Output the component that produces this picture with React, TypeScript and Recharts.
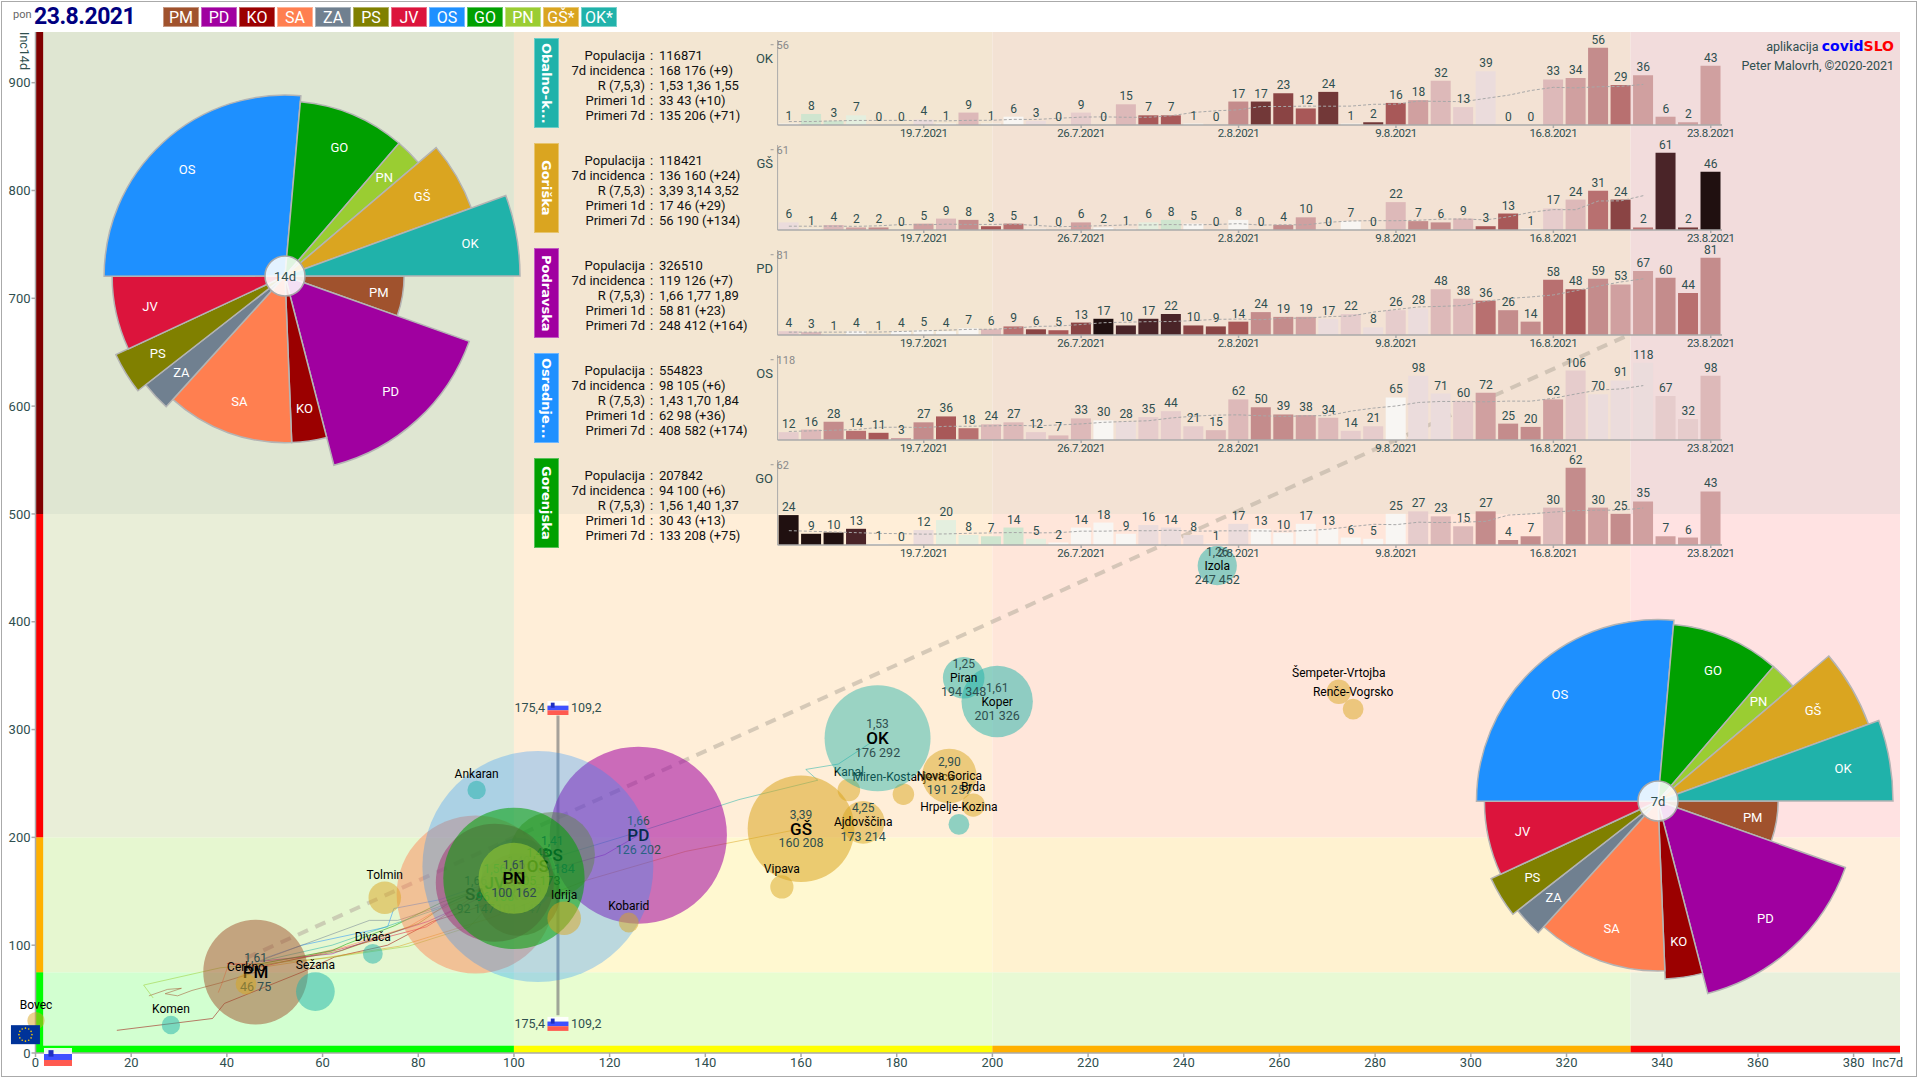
import React from 'react';
import { ScatterChart, Scatter, XAxis, YAxis, ReferenceArea, ReferenceLine, ReferenceDot, ComposedChart, Bar, Line, Cell, PieChart, Pie, Sector } from 'recharts';

const FONT = 'Roboto, sans-serif';
const INK = '#2f4f4f';

const CODES = ['PM', 'PD', 'KO', 'SA', 'ZA', 'PS', 'JV', 'OS', 'GO', 'PN', 'GŠ', 'OK'];
const POPULATION = [114000, 326510, 71000, 260000, 57000, 76000, 145000, 554823, 207842, 52500, 118421, 116871];
const INC7 = [46, 126, 101, 92, 101, 108, 96, 105, 100, 100, 160, 176];
const INC14 = [75, 202, 147, 147, 165, 184, 158, 173, 162, 162, 208, 292];
const RATIOS = ['1,61', '1,66', '1,38', '1,66', '1,40', '1,41', '1,56', '1,43', '1,56', '1,61', '3,39', '1,53'];
const COLORS: Record<string, string> = { PM: '#a0522d', PD: '#a000a0', KO: '#9b0000', SA: '#ff7f50', ZA: '#708090', PS: '#808000', JV: '#dc143c', OS: '#1e90ff', GO: '#00a000', PN: '#9acd32', 'GŠ': '#daa520', OK: '#20b2aa' };
const ALPHAS: Record<string, number> = { PM: 0.5, PD: 0.55, KO: 0.5, SA: 0.45, ZA: 0.4, PS: 0.5, JV: 0.55, OS: 0.3, GO: 0.55, PN: 0.55, 'GŠ': 0.55, OK: 0.45 };
const LEGEND = ['PM', 'PD', 'KO', 'SA', 'ZA', 'PS', 'JV', 'OS', 'GO', 'PN', 'GŠ*', 'OK*'];

const regionRows = CODES.map((code, i) => ({ code, name: code, x: INC7[i], y: INC14[i], pop: POPULATION[i], ratio: RATIOS[i], big: true }));

const GOLD_TOWNS = [
  { name: 'Bovec', x: 0.1, y: 30, pop: 3100 },
  { name: 'Cerkno', x: 44, y: 64, pop: 4500 },
  { name: 'Tolmin', x: 73, y: 144, pop: 11000 },
  { name: 'Idrija', x: 110.5, y: 125, pop: 11700 },
  { name: 'Kobarid', x: 124, y: 121, pop: 4100 },
  { name: 'Vipava', x: 156, y: 154, pop: 5600 },
  { name: 'Kanal', x: 170, y: 244, pop: 5300 },
  { name: 'Miren-Kostanjevica', x: 181.4, y: 240, pop: 4800 },
  { name: 'Nova Gorica', x: 191, y: 257, pop: 31000, ratio: '2,90' },
  { name: 'Brda', x: 196, y: 230, pop: 5600 },
  { name: 'Ajdovščina', x: 173, y: 214, pop: 19000, ratio: '4,25' },
  { name: 'Šempeter-Vrtojba', x: 272.4, y: 335, pop: 6200 },
  { name: 'Renče-Vogrsko', x: 275.4, y: 319, pop: 4500 },
];
const TEAL_TOWNS = [
  { name: 'Ankaran', x: 92.2, y: 244, pop: 3500 },
  { name: 'Divača', x: 70.5, y: 92, pop: 4100 },
  { name: 'Sežana', x: 58.5, y: 57, pop: 15600 },
  { name: 'Komen', x: 28.3, y: 26, pop: 3500 },
  { name: 'Hrpelje-Kozina', x: 193, y: 212, pop: 4500 },
  { name: 'Koper', x: 201, y: 326, pop: 53000, ratio: '1,61' },
  { name: 'Piran', x: 194, y: 348, pop: 18000, ratio: '1,25' },
  { name: 'Izola', x: 247, y: 452, pop: 16000, ratio: '1,26' },
];

const TRAIL_PM = [{ x: 23.7, y: 53 }, { x: 27.6, y: 59 }, { x: 30.5, y: 60 }, { x: 27.1, y: 55 }, { x: 29.7, y: 53 }, { x: 32.7, y: 58 }, { x: 38.6, y: 65 }, { x: 46, y: 75 }];
const TRAIL_KO = [{ x: 17, y: 21 }, { x: 37, y: 32 }, { x: 39.5, y: 46 }, { x: 55.7, y: 75 }, { x: 62.5, y: 89 }, { x: 73.6, y: 100 }, { x: 83, y: 122 }, { x: 101, y: 147 }];
const TRAIL_SA = [{ x: 38.2, y: 56 }, { x: 39, y: 65 }, { x: 40.4, y: 83 }, { x: 47.2, y: 83 }, { x: 55.7, y: 89 }, { x: 65, y: 99 }, { x: 78, y: 117 }, { x: 83, y: 130 }, { x: 92, y: 147 }];
const TRAIL_JV = [{ x: 40, y: 83 }, { x: 47.2, y: 80 }, { x: 63.4, y: 96 }, { x: 81.7, y: 117 }, { x: 86.4, y: 130 }, { x: 96, y: 158 }];
const TRAIL_PD = [{ x: 47, y: 85 }, { x: 62, y: 92 }, { x: 70, y: 105 }, { x: 82, y: 122 }, { x: 92, y: 142 }, { x: 108, y: 170 }, { x: 119, y: 184 }, { x: 126, y: 202 }];
const TRAIL_OS = [{ x: 48, y: 88 }, { x: 55.7, y: 100 }, { x: 73.6, y: 117 }, { x: 74.9, y: 134 }, { x: 84.3, y: 142 }, { x: 105, y: 173 }];
const TRAIL_ZA = [{ x: 46, y: 84 }, { x: 55.7, y: 100 }, { x: 69.8, y: 123 }, { x: 75.7, y: 123 }, { x: 84, y: 135 }, { x: 101, y: 165 }];
const TRAIL_GO = [{ x: 46, y: 82 }, { x: 62, y: 95 }, { x: 65, y: 101 }, { x: 75, y: 118 }, { x: 85, y: 140 }, { x: 100, y: 162 }];
const TRAIL_PS = [{ x: 46, y: 80 }, { x: 64, y: 95 }, { x: 80, y: 120 }, { x: 86, y: 138 }, { x: 108, y: 184 }];
const TRAIL_PN = [{ x: 24.6, y: 51 }, { x: 22.6, y: 63 }, { x: 38.6, y: 79 }, { x: 60.8, y: 88 }, { x: 77.9, y: 99 }, { x: 90.7, y: 117 }, { x: 100, y: 162 }];
const TRAIL_GS = [{ x: 48, y: 80 }, { x: 60, y: 88 }, { x: 76, y: 99 }, { x: 95, y: 125 }, { x: 115, y: 160 }, { x: 135.9, y: 187 }, { x: 160, y: 208 }];
const TRAIL_OK = [{ x: 47, y: 85 }, { x: 62, y: 100 }, { x: 85, y: 135 }, { x: 100, y: 170 }, { x: 126, y: 205 }, { x: 147, y: 235 }, { x: 163.5, y: 253 }, { x: 161, y: 263 }, { x: 167.8, y: 268 }, { x: 176, y: 292 }];
const TRAILS: [string, { x: number; y: number }[]][] = [['PM', TRAIL_PM], ['KO', TRAIL_KO], ['SA', TRAIL_SA], ['JV', TRAIL_JV], ['PD', TRAIL_PD], ['OS', TRAIL_OS], ['ZA', TRAIL_ZA], ['GO', TRAIL_GO], ['PS', TRAIL_PS], ['PN', TRAIL_PN], ['GŠ', TRAIL_GS], ['OK', TRAIL_OK]];

const X_TICKS = [0, 20, 40, 60, 80, 100, 120, 140, 160, 180, 200, 220, 240, 260, 280, 300, 320, 340, 360, 380];
const Y_TICKS = [0, 100, 200, 300, 400, 500, 600, 700, 800, 900];
const X_BANDS = [0, 100, 200, 333.4, 389.7];
const Y_BANDS = [0, 75, 200, 500, 947];
const BACKGROUNDS = [
  ['#d2ffd0', '#e8fdd0', '#e8f9d4', '#e8f0dc'],
  ['#e6f7d0', '#fff8d0', '#fff2d0', '#ffefdc'],
  ['#e9eed8', '#ffeed8', '#ffe6da', '#ffe2e2'],
  ['#dfe6d2', '#f3e6d2', '#f3e2d4', '#f2dcdc'],
];
const Y_STRIP = ['#00ff00', '#ffb000', '#ff0000', '#800000'];
const X_STRIP = ['#00ff00', '#ffff00', '#ffb000', '#ff0000'];

const DAYS = ['13.7.2021', '14.7.2021', '15.7.2021', '16.7.2021', '17.7.2021', '18.7.2021', '19.7.2021', '20.7.2021', '21.7.2021', '22.7.2021', '23.7.2021', '24.7.2021', '25.7.2021', '26.7.2021', '27.7.2021', '28.7.2021', '29.7.2021', '30.7.2021', '31.7.2021', '1.8.2021', '2.8.2021', '3.8.2021', '4.8.2021', '5.8.2021', '6.8.2021', '7.8.2021', '8.8.2021', '9.8.2021', '10.8.2021', '11.8.2021', '12.8.2021', '13.8.2021', '14.8.2021', '15.8.2021', '16.8.2021', '17.8.2021', '18.8.2021', '19.8.2021', '20.8.2021', '21.8.2021', '22.8.2021', '23.8.2021'];
const DAY_TICKS = ['19.7.2021', '26.7.2021', '2.8.2021', '9.8.2021', '16.8.2021', '23.8.2021'];

const OK_CASES = [1, 8, 3, 7, 0, 0, 4, 1, 9, 1, 6, 3, 0, 9, 0, 15, 7, 7, 1, 0, 17, 17, 23, 12, 24, 1, 2, 16, 18, 32, 13, 39, 0, 0, 33, 34, 56, 29, 36, 6, 2, 43];
const GS_CASES = [6, 1, 4, 2, 2, 0, 5, 9, 8, 3, 5, 1, 0, 6, 2, 1, 6, 8, 5, 0, 8, 0, 4, 10, 0, 7, 0, 22, 7, 6, 9, 3, 13, 1, 17, 24, 31, 24, 2, 61, 2, 46];
const PD_CASES = [4, 3, 1, 4, 1, 4, 5, 4, 7, 6, 9, 6, 5, 13, 17, 10, 17, 22, 10, 9, 14, 24, 19, 19, 17, 22, 8, 26, 28, 48, 38, 36, 26, 14, 58, 48, 59, 53, 67, 60, 44, 81];
const OS_CASES = [12, 16, 28, 14, 11, 3, 27, 36, 18, 24, 27, 12, 7, 33, 30, 28, 35, 44, 21, 15, 62, 50, 39, 38, 34, 14, 21, 65, 98, 71, 60, 72, 25, 20, 62, 106, 70, 91, 118, 67, 32, 98];
const GO_CASES = [24, 9, 10, 13, 1, 0, 12, 20, 8, 7, 14, 5, 2, 14, 18, 9, 16, 14, 8, 1, 17, 13, 10, 17, 13, 6, 5, 25, 27, 23, 15, 27, 4, 7, 30, 62, 30, 25, 35, 7, 6, 43];

const OK_TREND = [2.5, 2.5, 3, 3.3, 3.3, 3.4, 3.1, 3, 3.4, 3.4, 4.1, 4, 4.9, 5.7, 5.9, 5.6, 5.6, 6.7, 9.1, 10.3, 11, 13.4, 13.4, 13.7, 13.6, 13.7, 15, 15.1, 17.3, 17.1, 16.9, 19.3, 21.6, 25, 27.3, 26.9, 27.7, 28, 29.4];
const GS_TREND = [3, 3, 3, 2.9, 3.3, 4.3, 4.1, 4.6, 4.4, 4.4, 4.6, 3.6, 2.6, 3, 3.4, 4, 4, 4.3, 4, 4.4, 5, 3.9, 4.1, 4.1, 6.1, 7.1, 7.4, 7.3, 7.7, 8.6, 8.7, 8, 10.4, 14, 16.1, 16, 22.9, 23, 27.1];
const PD_TREND = [3, 3, 3, 3.1, 3.1, 3.7, 4.4, 5.1, 5.9, 6, 7.1, 9, 9.4, 11, 12.9, 13.4, 14, 14.1, 15.1, 16.4, 16.7, 16, 17.7, 17.6, 19.3, 19.9, 24, 26.7, 29.4, 30, 30.9, 35.4, 38.3, 39.9, 42, 46.4, 51.3, 55.6, 58.9];
const OS_TREND = [13, 14, 15, 15.9, 19.3, 19.6, 19, 20.9, 21, 21.6, 22.4, 21.6, 23, 24.6, 27, 28.3, 29.4, 33.6, 36.4, 38, 38.4, 37, 36, 36.9, 37.3, 44.1, 48.7, 51.9, 57.3, 58.9, 58.7, 58.3, 59.4, 59.3, 63.7, 70.3, 76.3, 78, 83.1];
const GO_TREND = [11.5, 11, 10.5, 9.9, 9.3, 9.1, 8.7, 8.9, 9.4, 9.7, 10, 9.7, 9.9, 11.1, 11.1, 11.6, 11.4, 11.9, 11.1, 11.3, 11.4, 11.3, 11, 11.6, 12.7, 14.7, 16.6, 16.3, 18.3, 18, 18.3, 19, 24, 25, 26.4, 27.6, 28, 27.9, 29.7];

const OK_SHADE = [0, -2, -2, -1, 0, 0, 1, 0, 3, 0, 0, 1, 0, 2, 0, 3, 7, 7, 0, 0, 5, 9, 8, 7, 9, 0, 9, 7, 4, 3, 2, 1, 0, 0, 3, 4, 5, 6, 4, 4, 4, 4];
const GS_SHADE = [1, 0, 3, 4, 5, 0, 4, 3, 5, 7, 6, 0, 0, 4, 0, 0, -1, -2, 0, 0, 0, 0, 5, 4, 0, 0, 0, 3, 5, 5, 3, 7, 7, 0, 2, 3, 6, 8, 6, 10, 9, 11];
const PD_SHADE = [2, 3, 0, 0, 0, 0, 0, 0, 0, 3, 6, 8, 7, 8, 11, 10, 10, 10, 8, 8, 7, 5, 5, 4, 1, 2, 1, 2, 1, 3, 3, 6, 5, 5, 6, 7, 5, 4, 4, 5, 6, 5];
const OS_SHADE = [2, 3, 5, 6, 7, 4, 5, 7, 6, 3, 3, 2, 3, 3, 0, 1, 2, 2, 2, 3, 3, 5, 5, 4, 3, 2, 2, 0, 1, 1, 2, 4, 5, 5, 4, 2, 1, 1, 1, 2, 2, 3];
const GO_SHADE = [11, 11, 11, 10, 0, 0, 1, -1, -1, -2, -2, -1, 0, 0, 0, 0, 1, 1, 1, 0, 1, 0, 0, 0, 0, 0, 0, 0, 2, 3, 3, 5, 5, 5, 3, 5, 4, 5, 4, 4, 4, 4];
const SHADE_PALETTE: Record<number, string> = { [-2]: '#cfe5cf', [-1]: '#e4efdf', 0: '#f8f6f3', 1: '#ebdcdc', 2: '#e6cccc', 3: '#ddb9b9', 4: '#d0a0a0', 5: '#c48c8c', 6: '#b87070', 7: '#a85858', 8: '#8a4444', 9: '#723838', 10: '#4a2428', 11: '#201010' };

const STAT_LABELS = ['Populacija', '7d incidenca', 'R (7,5,3)', 'Primeri 1d', 'Primeri 7d'];
const OK_STATS = ['116871', '168 176 (+9)', '1,53 1,36 1,55', '33 43 (+10)', '135 206 (+71)'];
const GS_STATS = ['118421', '136 160 (+24)', '3,39 3,14 3,52', '17 46 (+29)', '56 190 (+134)'];
const PD_STATS = ['326510', '119 126 (+7)', '1,66 1,77 1,89', '58 81 (+23)', '248 412 (+164)'];
const OS_STATS = ['554823', '98 105 (+6)', '1,43 1,70 1,84', '62 98 (+36)', '408 582 (+174)'];
const GO_STATS = ['207842', '94 100 (+6)', '1,56 1,40 1,37', '30 43 (+13)', '133 208 (+75)'];

const PANELS = [
  { code: 'OK', title: 'Obalno-k...', stats: OK_STATS, cases: OK_CASES, trend: OK_TREND, shade: OK_SHADE },
  { code: 'GŠ', title: 'Goriška', stats: GS_STATS, cases: GS_CASES, trend: GS_TREND, shade: GS_SHADE },
  { code: 'PD', title: 'Podravska', stats: PD_STATS, cases: PD_CASES, trend: PD_TREND, shade: PD_SHADE },
  { code: 'OS', title: 'Osrednje...', stats: OS_STATS, cases: OS_CASES, trend: OS_TREND, shade: OS_SHADE },
  { code: 'GO', title: 'Gorenjska', stats: GO_STATS, cases: GO_CASES, trend: GO_TREND, shade: GO_SHADE },
];

const BUBBLE_K = 0.155;

function Bubble(props: any) {
  const { cx, cy, payload: p, color, alpha } = props;
  const r = BUBBLE_K * Math.sqrt(p.pop);
  const fill = color ?? COLORS[p.code];
  const stacked = Boolean(p.ratio);
  const nameSize = p.big ? 17 : 12;
  return (
    <g fontFamily={FONT} textAnchor="middle">
      <circle cx={cx} cy={cy} r={r} fill={fill} fillOpacity={alpha ?? ALPHAS[p.code]} />
      {stacked ? (
        <>
          <text x={cx} y={cy - 14} dy=".35em" fontSize={12} fill={INK}>{p.ratio}</text>
          <text x={cx} y={cy} dy=".35em" fontSize={nameSize} fontWeight={p.big ? 500 : 400} fill="#000">{p.name}</text>
          <text x={cx} y={cy + 14} dy=".35em" fontSize={12.5} fill={INK}>{`${Math.round(p.x)} ${Math.round(p.y)}`}</text>
        </>
      ) : (
        <text x={cx} y={cy - r - 7} dy=".35em" fontSize={12} fill="#000">{p.name}</text>
      )}
    </g>
  );
}

function MiniFlag(props: any) {
  const { cx, cy, w, h } = props;
  return (
    <g transform={`translate(${cx - w / 2},${cy - h / 2})`}>
      <rect width={w} height={h / 3} fill="#ffffff" fillOpacity={0.9} />
      <rect y={h / 3} width={w} height={h / 3} fill="#3f51ff" />
      <rect y={(2 * h) / 3} width={w} height={h / 3} fill="#ff5a50" />
      <rect x={w * 0.16} y={h * 0.12} width={w * 0.18} height={h * 0.36} fill="#2030c0" />
    </g>
  );
}

function RefMark(props: any) {
  const { cx, cy } = props;
  return (
    <g fontFamily={FONT} fontSize={12.5} fill={INK}>
      <MiniFlag cx={cx} cy={cy} w={21} h={14} />
      <text x={cx - 13} y={cy} dy=".35em" textAnchor="end">175,4</text>
      <text x={cx + 13} y={cy} dy=".35em">109,2</text>
    </g>
  );
}

function EuFlag(props: any) {
  const { cx, cy } = props;
  const stars = Array.from({ length: 12 }, (_, i) => (i * Math.PI) / 6);
  return (
    <g>
      <rect x={cx - 14.5} y={cy - 9.5} width={29} height={19} fill="#003399" />
      {stars.map((a, i) => <circle key={i} cx={cx + 6.5 * Math.cos(a)} cy={cy + 6.5 * Math.sin(a)} r={0.8} fill="#ffcc00" />)}
    </g>
  );
}

function MainChart() {
  const dashSeg = [{ x: 44, y: 88 }, { x: 333, y: 666 }];
  return (
    <ScatterChart width={1920} height={1080} margin={{ top: 32, right: 20, bottom: 0, left: 0 }} style={{ position: 'absolute', left: 0, top: 0 }}>
      <XAxis type="number" dataKey="x" domain={[0, 389.7]} ticks={X_TICKS} height={27} stroke="#aaa" strokeWidth={1.5} tickSize={4} tick={{ fill: INK, fontSize: 13, fontFamily: FONT }} tickMargin={1} interval={0} />
      <YAxis type="number" dataKey="y" domain={[0, 947]} ticks={Y_TICKS} width={35.5} stroke="#aaa" strokeWidth={1.5} tickSize={4} tick={{ fill: INK, fontSize: 13, fontFamily: FONT }} tickMargin={1} interval={0} />
      {BACKGROUNDS.flatMap((row, yi) => row.map((fill, xi) => (
        <ReferenceArea key={`${yi}-${xi}`} x1={X_BANDS[xi]} x2={X_BANDS[xi + 1]} y1={Y_BANDS[yi]} y2={Y_BANDS[yi + 1]} fill={fill} fillOpacity={1} stroke="none" />
      )))}
      {Y_STRIP.map((fill, i) => <ReferenceArea key={`ys${i}`} x1={0} x2={1.6} y1={Y_BANDS[i]} y2={Y_BANDS[i + 1]} fill={fill} fillOpacity={1} stroke="none" />)}
      {X_STRIP.map((fill, i) => <ReferenceArea key={`xs${i}`} x1={X_BANDS[i]} x2={X_BANDS[i + 1]} y1={0} y2={6.8} fill={fill} fillOpacity={1} stroke="none" />)}
      {TRAILS.map(([code, points]) => (
        <Scatter key={code} data={points} line={{ stroke: COLORS[code], strokeWidth: 0.8, strokeOpacity: 0.65 }} shape={() => <g />} isAnimationActive={false} />
      ))}
      <Scatter data={regionRows.slice(0, 10)} shape={(p: any) => <Bubble {...p} />} isAnimationActive={false} />
      <ReferenceLine segment={dashSeg} stroke="#b4ac9c" strokeOpacity={0.55} strokeWidth={4} strokeDasharray="11 8" />
      <Scatter data={regionRows.slice(10, 11)} shape={(p: any) => <Bubble {...p} />} isAnimationActive={false} />
      <Scatter data={GOLD_TOWNS} shape={(p: any) => <Bubble {...p} color={COLORS['GŠ']} alpha={0.5} />} isAnimationActive={false} />
      <Scatter data={regionRows.slice(11)} shape={(p: any) => <Bubble {...p} />} isAnimationActive={false} />
      <Scatter data={TEAL_TOWNS} shape={(p: any) => <Bubble {...p} color={COLORS.OK} alpha={0.5} />} isAnimationActive={false} />
      <ReferenceLine segment={[{ x: 109.2, y: 35 }, { x: 109.2, y: 313 }]} stroke="#808080" strokeOpacity={0.7} strokeWidth={3} />
      <ReferenceDot x={109.2} y={320} ifOverflow="visible" shape={(p: any) => <RefMark {...p} />} />
      <ReferenceDot x={109.2} y={27} ifOverflow="visible" shape={(p: any) => <RefMark {...p} />} />
      <ReferenceDot x={-2.1} y={17} ifOverflow="visible" shape={(p: any) => <EuFlag {...p} />} />
      <ReferenceDot x={4.7} y={-3.7} ifOverflow="visible" shape={(p: any) => <MiniFlag {...p} w={28} h={18} />} />
    </ScatterChart>
  );
}

function YMaxTick(props: any) {
  const { x, y, payload } = props;
  return (
    <g>
      <line x1={x + 1} x2={x + 4} y1={y - 3} y2={y - 3} stroke="#999" />
      <text x={x + 7} y={y - 3} dy=".35em" fontSize={11} fontFamily={FONT} fill="#8a8a8a">{payload.value}</text>
    </g>
  );
}

function CaseLabel(props: any) {
  const { x, y, value } = props;
  return <text x={x} y={y - 4} textAnchor="middle" fill={INK} fontSize={12} fontFamily={FONT}>{value}</text>;
}

function MiniPanel({ panel, index }: any) {
  const offset = 105 * index;
  const rows = DAYS.map((day, i) => ({ day, cases: panel.cases[i], trend: panel.trend[i] }));
  const max = Math.max(...panel.cases);
  return (
    <>
      <div style={{ position: 'absolute', left: 534, top: 38 + offset, width: 25, height: 90, background: COLORS[panel.code], border: '1px solid rgba(255,255,255,.35)', boxSizing: 'border-box', display: 'flex', alignItems: 'center', justifyContent: 'center' }}>
        <span style={{ writingMode: 'vertical-rl', color: '#fff', fontFamily: 'DejaVu Sans', fontWeight: 700, fontSize: 13, whiteSpace: 'nowrap' }}>{panel.title}</span>
      </div>
      {STAT_LABELS.map((label, i) => (
        <React.Fragment key={label}>
          <div style={{ position: 'absolute', left: 545, width: 100, top: 48 + offset + 15 * i, textAlign: 'right', fontFamily: FONT, fontSize: 13, lineHeight: '15px', color: '#111', whiteSpace: 'nowrap' }}>{label}</div>
          <div style={{ position: 'absolute', left: 650, top: 48 + offset + 15 * i, fontFamily: FONT, fontSize: 13, lineHeight: '15px', color: '#111' }}>:</div>
          <div style={{ position: 'absolute', left: 659, top: 48 + offset + 15 * i, fontFamily: FONT, fontSize: 13, lineHeight: '15px', color: '#111', whiteSpace: 'nowrap' }}>{panel.stats[i]}</div>
        </React.Fragment>
      ))}
      <div style={{ position: 'absolute', left: 740, width: 33, top: 51 + offset, textAlign: 'right', fontFamily: FONT, fontSize: 13, lineHeight: '16px', color: INK }}>{panel.code}</div>
      <ComposedChart width={1050} height={115} data={rows} margin={{ top: 10, right: 28, bottom: 0, left: 76.6 }} barCategoryGap={1} style={{ position: 'absolute', left: 700, top: 30 + offset }}>
        <XAxis dataKey="day" ticks={DAY_TICKS} interval={0} height={20} stroke="#aaa" strokeWidth={1.5} tickSize={3} tickMargin={1} tick={{ fill: INK, fontSize: 11.5, fontFamily: FONT, letterSpacing: -0.4 }} />
        <YAxis type="number" domain={[0, max * 1.1]} ticks={[max]} width={1} stroke="#aaa" tickLine={false} tick={(p: any) => <YMaxTick {...p} />} interval={0} />
        <Bar dataKey="cases" isAnimationActive={false}>
          {rows.map((_, i) => <Cell key={i} fill={SHADE_PALETTE[panel.shade[i]]} />)}
        </Bar>
        <Line dataKey="trend" stroke="#a8a8a8" strokeWidth={1} strokeDasharray="3 2" dot={false} isAnimationActive={false} />
        <Line dataKey="cases" stroke="none" dot={false} isAnimationActive={false} label={(p: any) => <CaseLabel {...p} />} />
      </ComposedChart>
    </>
  );
}

function Slice(props: any) {
  const { cx, cy, startAngle, endAngle, payload, maxInc } = props;
  const d = payload ?? props;
  const r = 235 * Math.sqrt(d.inc / maxInc);
  const mid = ((startAngle + endAngle) / 2) * (Math.PI / 180);
  return (
    <g>
      <Sector cx={cx} cy={cy} innerRadius={0} outerRadius={r} startAngle={startAngle} endAngle={endAngle} fill={COLORS[d.code]} stroke="#b4b4b4" strokeWidth={1.5} />
      <text x={cx + 0.8 * r * Math.cos(mid)} y={cy - 0.8 * r * Math.sin(mid)} dy=".35em" textAnchor="middle" fill="#fff" fontSize={13} fontFamily={FONT}>{d.code}</text>
    </g>
  );
}

function PieHub(props: any) {
  const { cx, cy, label } = props;
  return (
    <g>
      <circle cx={cx} cy={cy} r={20} fill="#ffffff" fillOpacity={0.88} stroke="#a8a8a8" strokeWidth={1.5} />
      <text x={cx} y={cy} dy=".35em" textAnchor="middle" fill={INK} fontSize={13} fontFamily={FONT}>{label}</text>
    </g>
  );
}

const HUB_ROW = [{ hub: 1 }];

function RosePie({ left, top, incidence, label }: any) {
  const rows = CODES.map((code, i) => ({ code, pop: POPULATION[i], inc: incidence[i] }));
  const maxInc = Math.max(...incidence);
  return (
    <PieChart width={520} height={520} margin={{ top: 0, right: 0, bottom: 0, left: 0 }} style={{ position: 'absolute', left: left - 260, top: top - 260 }}>
      <Pie data={rows} dataKey="pop" nameKey="code" cx={260} cy={260} innerRadius={0} outerRadius={235} startAngle={0} endAngle={-360} paddingAngle={0} isAnimationActive={false} shape={(p: any) => <Slice {...p} maxInc={maxInc} />} />
      <Pie data={HUB_ROW} dataKey="hub" cx={260} cy={260} innerRadius={0} outerRadius={20} isAnimationActive={false} shape={(p: any) => <PieHub {...p} label={label} />} />
    </PieChart>
  );
}

export default function App() {
  return (
    <div style={{ position: 'absolute', left: 0, top: 0, width: 1920, height: 1080, overflow: 'hidden', background: '#fff', fontFamily: FONT }}>
      <MainChart />
      <div style={{ position: 'absolute', left: 1, top: 1, width: 1916, height: 1076, border: '1.5px solid #aaa', boxSizing: 'border-box', pointerEvents: 'none' }} />
      <div style={{ position: 'absolute', left: 13, top: 8, fontSize: 11, color: '#666' }}>pon</div>
      <div style={{ position: 'absolute', left: 34, top: 3, fontSize: 23, fontWeight: 700, color: '#000080', letterSpacing: -0.5, lineHeight: '28px' }}>23.8.2021</div>
      {LEGEND.map((name, i) => (
        <div key={name} style={{ position: 'absolute', left: 163 + 38 * i, top: 7, width: 36, height: 20, background: COLORS[name.replace('*', '')], border: '1px solid rgba(255,255,255,.4)', boxSizing: 'border-box', color: '#fff', fontSize: 16, lineHeight: '19px', textAlign: 'center' }}>{name}</div>
      ))}
      <div style={{ position: 'absolute', left: 17, top: 32, writingMode: 'vertical-rl', fontSize: 12.5, color: INK }}>Inc14d</div>
      <div style={{ position: 'absolute', right: 17, top: 1055, fontSize: 12.5, color: INK }}>Inc7d</div>
      <div style={{ position: 'absolute', right: 26, top: 38, fontSize: 12.5, color: INK, whiteSpace: 'nowrap' }}>
        aplikacija <span style={{ fontFamily: 'DejaVu Sans', fontWeight: 700, fontSize: 14, color: '#0000ff' }}>covid</span><span style={{ fontFamily: 'DejaVu Sans', fontWeight: 700, fontSize: 14, color: '#ff0000' }}>SLO</span>
      </div>
      <div style={{ position: 'absolute', right: 26, top: 58, fontSize: 12.5, color: INK, whiteSpace: 'nowrap' }}>Peter Malovrh, ©2020-2021</div>
      {PANELS.map((panel, i) => <MiniPanel key={panel.code} panel={panel} index={i} />)}
      <RosePie left={285} top={276} incidence={INC14} label="14d" />
      <RosePie left={1658} top={801} incidence={INC7} label="7d" />
    </div>
  );
}
